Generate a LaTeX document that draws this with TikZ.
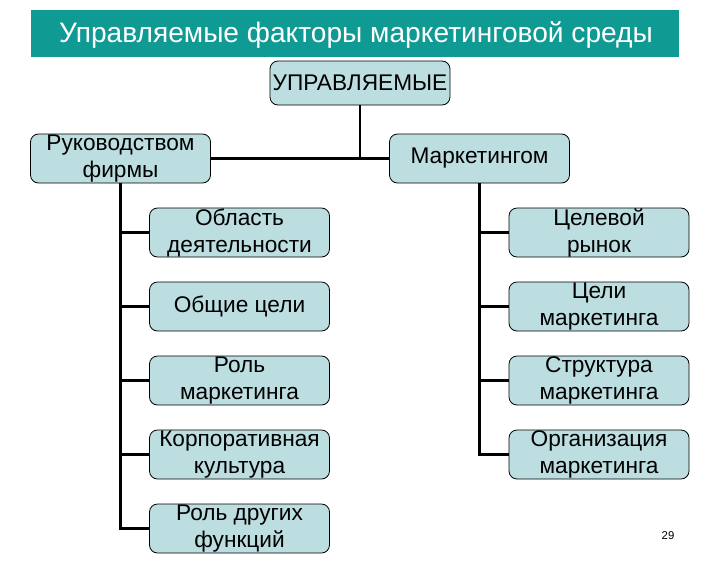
\documentclass[tikz,border=0pt]{standalone}
\usepackage{fontspec}
\setmainfont{Liberation Sans}
\definecolor{titleteal}{HTML}{109A94}
\definecolor{boxfill}{HTML}{BCDEE0}
\tikzset{
  factor/.style={draw=black, line width=0.6pt, fill=boxfill, rounded corners=6pt,
    minimum width=135pt, minimum height=36.75pt, inner sep=0pt, align=center,
    font=\fontsize{17}{20.25}\selectfont},
  link/.style={line width=1.6pt}
}
\begin{document}
\begin{tikzpicture}[x=0.75pt,y=-0.75pt]
	\useasboundingbox (0,0) rectangle (720,575);

	% title bar
	\fill[titleteal] (31,10) rectangle (679,57);
	\node[text=white, font=\fontsize{21.1}{25}\selectfont] (title) at (356,35) {Управляемые факторы маркетинговой среды};

	% top levels
	\node[factor, minimum height=33pt] (top) at (360,83) {УПРАВЛЯЕМЫЕ};
	\node[factor] (mgmt) at (120.5,158.5) {Руководством\\фирмы};
	\node[factor] (mkt) at (479.5,158.5) {Маркетингом};

	% factors of management
	\node[factor] (area) at (239.5,232.5) {Область\\деятельности};
	\node[factor] (goals) at (239.5,306.5) {Общие цели};
	\node[factor] (role) at (239.5,380.5) {Роль\\маркетинга};
	\node[factor] (culture) at (239.5,454.5) {Корпоративная\\культура};
	\node[factor] (other) at (239.5,528.5) {Роль других\\функций};

	% factors of marketing
	\node[factor] (target) at (599,232.5) {Целевой\\рынок};
	\node[factor] (mgoals) at (599,306.5) {Цели\\маркетинга};
	\node[factor] (struct) at (599,380.5) {Структура\\маркетинга};
	\node[factor] (org) at (599,454.5) {Организация\\маркетинга};

	% connectors
	\draw[link] (top.south) -- (top.south |- mgmt.east);
	\draw[link] (mgmt.east) -- (mkt.west);
	\draw[link] (mgmt.south) -- (mgmt.south |- other.west) -- (other.west);
	\foreach \f in {area,goals,role,culture}
		\draw[link] (mgmt.south |- \f.west) -- (\f.west);
	\draw[link] (mkt.south) -- (mkt.south |- org.west) -- (org.west);
	\foreach \f in {target,mgoals,struct}
		\draw[link] (mkt.south |- \f.west) -- (\f.west);

	% page number
	\node[font=\fontsize{8.5}{10}\selectfont] (pagenum) at (668,536) {29};

\end{tikzpicture}
\end{document}
